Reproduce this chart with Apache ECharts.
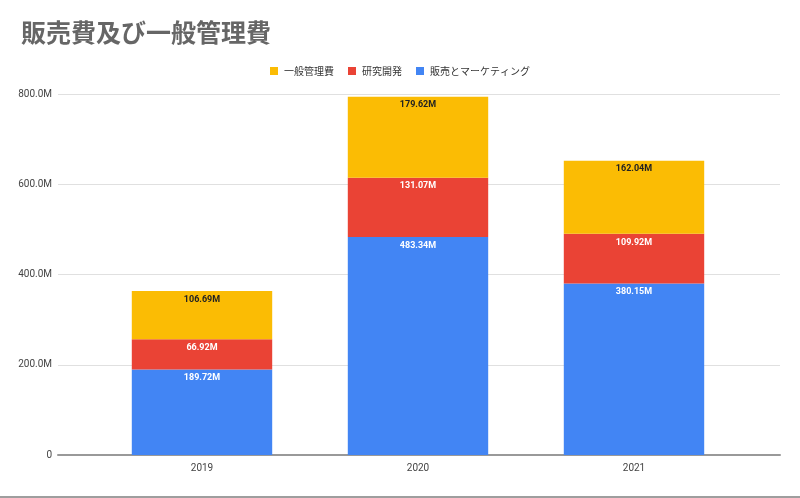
<!DOCTYPE html>
<html><head><meta charset="utf-8">
<script src="https://cdn.jsdelivr.net/npm/echarts@6/dist/echarts.min.js"></script>
<style>html,body{margin:0;padding:0;background:#fff}#c{width:800px;height:498px;box-sizing:border-box;border-bottom:2px solid #9e9e9e}</style>
</head><body><div id="c"></div>
<script>
const titleText = '販売費及び一般管理費';
const categories = ['2019', '2020', '2021'];
const salesMarketing = [189.72, 483.34, 380.15];
const research = [66.92, 131.07, 109.92];
const generalAdmin = [106.69, 179.62, 162.04];
const seriesNames = ['販売とマーケティング', '研究開発', '一般管理費'];
const yTicks = [0, 200, 400, 600, 800];

const chart = echarts.init(document.getElementById('c'), null, {renderer: 'canvas'});
const fontFam = 'Roboto, Arial, "Noto Sans CJK JP", sans-serif';
function lbl(color) {
  return {show: true, position: 'insideTop', distance: 4, color: color, fontSize: 9, fontWeight: 'bold', fontFamily: fontFam,
    formatter: p => p.value.toFixed(2) + 'M'};
}
const yMin = yTicks[0], yMax = yTicks[yTicks.length - 1];
chart.setOption({
  animation: false,
  title: {text: titleText, left: 16, top: 15, textStyle: {fontSize: 25, fontWeight: 'bold', color: '#666666', fontFamily: '"Noto Sans CJK JP", sans-serif'}},
  legend: {top: 61, left: 'center', itemWidth: 8, itemHeight: 8, itemGap: 14, icon: 'rect',
    data: [seriesNames[2], seriesNames[1], seriesNames[0]],
    textStyle: {fontSize: 10, color: '#333', padding: [0, 0, 0, 1], fontFamily: '"Noto Sans CJK JP", sans-serif'}},
  grid: [
    {left: 58, right: 20, top: 94, bottom: 41},
    {left: 94, right: 58, top: 94, bottom: 41}
  ],
  xAxis: [
    {gridIndex: 0, type: 'category', data: categories,
      axisLine: {lineStyle: {color: '#999', width: 2}}, axisTick: {show: false}, axisLabel: {show: false}},
    {gridIndex: 1, type: 'category', data: categories,
      axisLine: {show: false}, axisTick: {show: false},
      axisLabel: {color: '#444', fontSize: 10, margin: 8, fontFamily: fontFam}}
  ],
  yAxis: [
    {gridIndex: 0, type: 'value', min: yMin, max: yMax, interval: 200,
      axisLine: {show: false}, axisTick: {show: false},
      splitLine: {lineStyle: {color: '#e0e0e0'}},
      axisLabel: {color: '#444', fontSize: 10, margin: 6, fontFamily: fontFam,
        formatter: v => v === 0 ? '0' : v.toFixed(1) + 'M'}},
    {gridIndex: 1, type: 'value', min: yMin, max: yMax, interval: 200, show: false}
  ],
  series: [
    {name: seriesNames[0], type: 'bar', stack: 's', xAxisIndex: 1, yAxisIndex: 1, data: salesMarketing, barWidth: '65%', itemStyle: {color: '#4285f4'}, label: lbl('#ffffff'), z: 3},
    {name: seriesNames[1], type: 'bar', stack: 's', xAxisIndex: 1, yAxisIndex: 1, data: research, itemStyle: {color: '#ea4335'}, label: lbl('#ffffff'), z: 3},
    {name: seriesNames[2], type: 'bar', stack: 's', xAxisIndex: 1, yAxisIndex: 1, data: generalAdmin, itemStyle: {color: '#fbbc04'}, label: lbl('#222222'), z: 3}
  ]
});
</script></body></html>
